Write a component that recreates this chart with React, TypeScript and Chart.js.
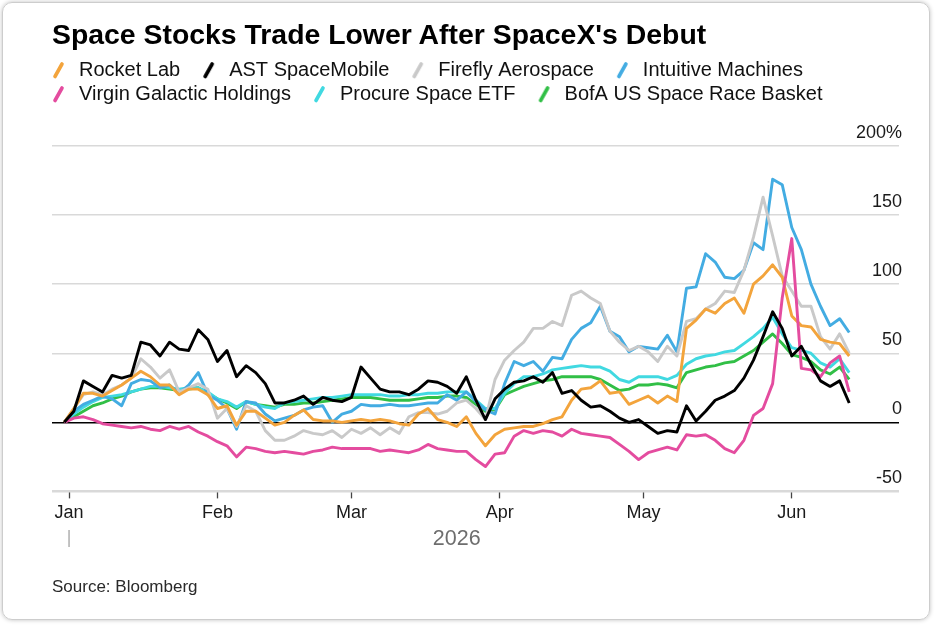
import React, { useEffect, useRef } from "react";
import { Chart, registerables } from "chart.js";

Chart.register(...registerables);

const FONT = "'Liberation Sans', Arial, Helvetica, sans-serif";

// days since Jan 1 2026
const days = [
  -1, 1, 3, 5, 7, 9, 11, 13, 15, 17,
  19, 21, 23, 25, 27, 29, 31, 33, 35, 37,
  39, 41, 43, 45, 47, 49, 51, 53, 55, 57,
  59, 61, 63, 65, 67, 69, 71, 73, 75, 77,
  79, 81, 83, 85, 87, 89, 91, 93, 95, 97,
  99, 101, 103, 105, 107, 109, 111, 113, 115, 117,
  119, 121, 123, 125, 127, 129, 131, 133, 135, 137,
  139, 141, 143, 145, 147, 149, 151, 153, 155, 157,
  159, 161, 163,
];

const rocketLab = [
  0, 10, 21, 21, 19, 23, 27, 32, 37, 33,
  27, 27, 20, 24, 24, 20, 10, 12, -2, 8,
  8, 3, -2, 0, 5, 9, 2, 1, 1, 0,
  1, 2, 1, 2, 1, -1, -2, 6, 10, 2,
  0, -3, 4, -8, -17, -9, -5, -4, -3, -3,
  -1, 2, 4, 16, 24, 25, 30, 21, 22, 13,
  16, 19, 14, 19, 15, 68, 74, 82, 79, 86,
  90, 79, 100, 106, 114, 105, 77, 70, 69, 60,
  58, 57, 48,
];

const astSpaceMobile = [
  0, 8, 30, 26, 22, 34, 32, 34, 58, 56,
  48, 58, 53, 52, 67, 60, 44, 52, 33, 41,
  36, 28, 14, 14, 16, 19, 13, 18, 16, 15,
  18, 40, 32, 24, 22, 22, 20, 24, 30, 29,
  26, 21, 33, 16, 2, 17, 24, 29, 30, 33,
  29, 36, 21, 23, 16, 11, 12, 8, 3, 0,
  2, -3, -8, -6, -7, 12, 1, 8, 16, 19,
  23, 32, 45, 62, 80, 68, 48, 55, 42, 30,
  26, 30, 14,
];

const fireflyAerospace = [
  0, 10, 20, 22, 20, 24, 27, 32, 46, 40,
  32, 38, 22, 25, 28, 24, 3, 10, -3, 12,
  8, -6, -13, -13, -10, -6, -8, -9, -6, -11,
  -5, -8, -4, -9, -4, -8, 4, 7, 7, 6,
  8, 14, 16, 10, 2, 31, 45, 52, 58, 68,
  68, 73, 70, 92, 95, 90, 86, 66, 58, 52,
  55, 51, 44, 55, 48, 73, 75, 82, 86, 95,
  94, 110, 134, 163, 135, 106, 95, 84, 84, 62,
  53, 64, 50,
];

const intuitiveMachines = [
  0, 8, 13, 16, 19, 17, 12, 28, 31, 30,
  25, 27, 21, 27, 36, 20, 16, 10, -5, 15,
  14, 6, 1, 3, 5, 9, 11, 12, 0, 6,
  8, 13, 12, 12, 13, 12, 12, 13, 14, 14,
  20, 16, 22, 15, 9, 6, 28, 44, 41, 44,
  37, 47, 46, 60, 68, 72, 84, 66, 62, 51,
  55, 54, 53, 63, 51, 97, 98, 122, 116, 105,
  104, 110, 130, 125, 176, 172, 141, 125, 100, 84,
  70, 75, 65,
];

const virginGalactic = [
  0, 3, 4, 2, -1, -2, -3, -4, -3, -5,
  -6, -3, -5, -3, -7, -10, -14, -17, -25, -18,
  -19, -21, -22, -21, -22, -23, -21, -20, -18, -19,
  -19, -19, -19, -21, -20, -21, -22, -20, -16, -19,
  -20, -21, -21, -27, -32, -23, -22, -10, -6, -8,
  -6, -7, -10, -5, -8, -9, -10, -11, -16, -21,
  -27, -22, -20, -18, -20, -9, -10, -9, -13, -19,
  -22, -13, 5, 10, 28, 90, 133, 39, 38, 33,
  43, 48, 22,
];

const procureSpaceEtf = [
  0, 6, 11, 15, 18, 19, 20, 22, 24, 26,
  26, 25, 24, 25, 25, 22, 17, 15, 11, 15,
  13, 11, 10, 14, 15, 16, 17, 18, 18, 19,
  20, 20, 20, 20, 19, 19, 20, 20, 21, 21,
  22, 22, 22, 16, 10, 10, 21, 28, 33, 33,
  35, 38, 39, 40, 41, 40, 40, 37, 31, 29,
  33, 33, 33, 31, 34, 42, 46, 48, 49, 51,
  52, 57, 62, 68, 76, 64, 54, 52, 50, 43,
  40, 46, 36,
];

const bofaSpaceRace = [
  0, 4, 8, 12, 14, 17, 19, 22, 24, 25,
  25, 24, 23, 24, 25, 21, 17, 14, 10, 15,
  13, 12, 11, 13, 13, 14, 14, 15, 16, 17,
  18, 18, 18, 17, 16, 16, 16, 17, 18, 18,
  19, 19, 18, 13, 8, 9, 20, 23, 26, 28,
  30, 31, 33, 33, 33, 33, 31, 27, 23, 24,
  27, 27, 28, 27, 25, 36, 38, 40, 41, 43,
  44, 48, 52, 58, 64, 57, 49, 47, 44, 38,
  35, 40, 31,
];

const seriesNames = [
  "Rocket Lab",
  "AST SpaceMobile",
  "Firefly Aerospace",
  "Intuitive Machines",
  "Virgin Galactic Holdings",
  "Procure Space ETF",
  "BofA US Space Race Basket",
];
const seriesColors = ["#f3a43c", "#000000", "#c9c9c9", "#43ace2", "#e44c9f", "#41d9e1", "#31bf46"];
const drawOrder = [2, 0, 3, 4, 1, 5, 6];

const monthDays = [0, 31, 59, 90, 120, 151];
const monthLabels = ["Jan", "Feb", "Mar", "Apr", "May", "Jun"];
const yTicks = [-50, 0, 50, 100, 150, 200];
const yearLabel = "2026";

function makeMarker(color: string) {
  const c = document.createElement("canvas");
  c.width = 35;
  c.height = 18;
  const g = c.getContext("2d")!;
  g.strokeStyle = color;
  g.lineWidth = 3.6;
  g.lineCap = "round";
  g.beginPath();
  g.moveTo(21, 15.5);
  g.lineTo(28, 3);
  g.stroke();
  return c;
}

const yearMarker = {
  id: "yearMarker",
  afterDraw(chart: any) {
    const { ctx } = chart;
    const x = chart.scales.x;
    const x0 = x.getPixelForValue(monthDays[0]);
    const mid = (x.getPixelForValue(days[0]) + x.getPixelForValue(days[days.length - 1])) / 2;
    const top = x.bottom + 2;
    ctx.save();
    ctx.strokeStyle = "#9a9a9a";
    ctx.lineWidth = 1.2;
    ctx.beginPath();
    ctx.moveTo(x0, top);
    ctx.lineTo(x0, top + 17);
    ctx.stroke();
    ctx.fillStyle = "#6e6e6e";
    ctx.font = `21.5px ${FONT}`;
    ctx.textAlign = "center";
    ctx.textBaseline = "middle";
    ctx.fillText(yearLabel, mid, top + 9);
    ctx.restore();
  },
};

const allSeries = [
  rocketLab,
  astSpaceMobile,
  fireflyAerospace,
  intuitiveMachines,
  virginGalactic,
  procureSpaceEtf,
  bofaSpaceRace,
];

export default function App() {
  const canvasRef = useRef<HTMLCanvasElement>(null);

  useEffect(() => {
    if (!canvasRef.current) return;

    const datasets = allSeries.map((vals, i) => ({
      label: seriesNames[i],
      data: days.map((d, j) => ({ x: d, y: vals[j] })),
      borderColor: seriesColors[i],
      backgroundColor: seriesColors[i],
      borderWidth: 2.9,
      pointRadius: 0,
      pointStyle: makeMarker(seriesColors[i]),
      tension: 0,
      borderJoinStyle: "round",
      order: drawOrder[i],
      xAxisID: "x",
      yAxisID: "y",
    }));

    const chart = new Chart(canvasRef.current, {
      type: "line",
      data: { datasets },
      options: {
        animation: false,
        responsive: true,
        maintainAspectRatio: false,
        events: [],
        layout: { padding: { left: 30, right: 31, top: 56, bottom: 98 } },
        plugins: {
          tooltip: { enabled: false },
          title: { display: false },
          legend: {
            display: true,
            position: "top",
            align: "start",
            labels: {
              usePointStyle: true,
              pointStyleWidth: 35,
              padding: 4,
              color: "#111",
              font: { family: FONT, size: 20 },
              sort: (a: any, b: any) => a.datasetIndex - b.datasetIndex,
            },
          },
        },
        scales: {
          x: {
            type: "linear",
            position: "bottom",
            min: -3.56,
            max: 173.4,
            afterBuildTicks: (s: any) => {
              s.ticks = monthDays.map((v) => ({ value: v }));
            },
            ticks: {
              autoSkip: false,
              maxRotation: 0,
              padding: 4,
              color: "#1a1a1a",
              font: { family: FONT, size: 18 },
              callback: (_v: any, i: number) => monthLabels[i],
            },
            grid: {
              display: true,
              drawOnChartArea: false,
              drawTicks: true,
              tickLength: 7,
              tickColor: "#444",
              tickWidth: 1.3,
            },
            border: { display: false },
          },
          y: {
            type: "linear",
            position: "right",
            min: -50,
            max: 200,
            afterBuildTicks: (s: any) => {
              s.ticks = yTicks.map((v) => ({ value: v }));
            },
            ticks: {
              mirror: true,
              padding: 3,
              labelOffset: -13,
              color: "#1a1a1a",
              font: { family: FONT, size: 18 },
              callback: (v: any) => (v === 200 ? "200%" : String(v)),
            },
            grid: {
              drawTicks: false,
              color: (c: any) => (c.tick && c.tick.value === 0 ? "#000" : "#d9d9d9"),
              lineWidth: (c: any) => (c.tick && c.tick.value === 0 ? 1.4 : c.tick && c.tick.value === -50 ? 2.6 : 1.4),
            },
            border: { display: false },
          },
          padL: {
            type: "linear",
            position: "left",
            display: true,
            ticks: { display: false },
            grid: { display: false, drawTicks: false },
            border: { display: false },
            afterFit: (s: any) => {
              s.width = 22;
            },
          },
          padT: {
            type: "linear",
            position: "top",
            display: true,
            ticks: { display: false },
            grid: { display: false, drawTicks: false },
            border: { display: false },
            afterFit: (s: any) => {
              s.height = 32;
            },
          },
        },
      } as any,
      plugins: [yearMarker],
    } as any);

    return () => chart.destroy();
  }, []);

  return (
    <div
      style={{
        position: "absolute",
        left: 0,
        top: 0,
        width: 936,
        height: 626,
        background: "#fff",
        fontFamily: FONT,
        overflow: "hidden",
      }}
    >
      <div
        style={{
          position: "absolute",
          left: 2,
          top: 2,
          width: 926,
          height: 616,
          border: "1px solid #cdcdcd",
          borderRadius: 10,
          boxShadow: "0 0 4px rgba(0,0,0,0.25)",
        }}
      />
      <div style={{ position: "absolute", left: 0, top: 0, width: 936, height: 626 }}>
        <canvas ref={canvasRef} />
      </div>
      <div
        style={{
          position: "absolute",
          left: 52,
          top: 20,
          fontSize: 28.4,
          lineHeight: 1,
          fontWeight: "bold",
          color: "#000",
          whiteSpace: "nowrap",
        }}
      >
        Space Stocks Trade Lower After SpaceX's Debut
      </div>
      <div
        style={{
          position: "absolute",
          left: 52,
          top: 577,
          fontSize: 17,
          lineHeight: "20px",
          color: "#2a2a2a",
          whiteSpace: "nowrap",
        }}
      >
        Source: Bloomberg
      </div>
    </div>
  );
}
